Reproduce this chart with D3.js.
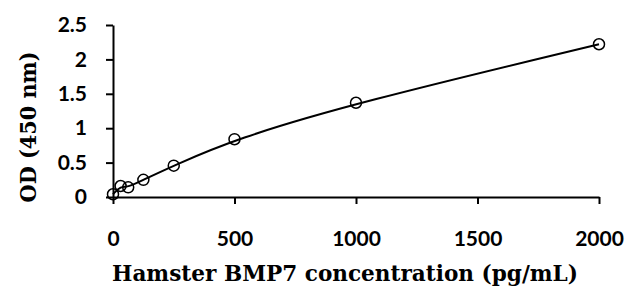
<!DOCTYPE html>
<html>
<head>
<meta charset="utf-8">
<script src="https://cdn.jsdelivr.net/npm/d3@7"></script>
<style>
  body { margin: 0; background: #fff; }
  svg { display: block; }
</style>
</head>
<body>
<svg width="630" height="291"></svg>
<script>
// standard curve: concentration (pg/mL) vs OD at 450 nm
const conc = [0, 31.25, 62.5, 125, 250, 500, 1000, 2000];
const od = [0.04, 0.16, 0.14, 0.25, 0.455, 0.84, 1.37, 2.22];
const xTicks = [0, 500, 1000, 1500, 2000];
const yTicks = [0, 0.5, 1, 1.5, 2, 2.5];

const data = conc.map((c, i) => ({ c: c, od: od[i] }));

const svg = d3.select("svg");

// plot area
const x = d3.scaleLinear().domain([0, 2000]).range([113, 599]);
const y = d3.scaleLinear().domain([0, 2.5]).range([197, 25]);

const tickFont = "Lato, 'Open Sans', sans-serif";
const titleFont = "'DejaVu Serif', 'Liberation Serif', serif";

// x axis
const xAxis = svg.append("g")
  .attr("transform", "translate(0," + y(0) + ")")
  .call(d3.axisBottom(x).tickValues(xTicks).tickSize(7).tickSizeOuter(0)
    .tickFormat(d3.format("d")));
xAxis.select(".domain").attr("stroke", "#000").attr("stroke-width", 2);
xAxis.selectAll(".tick line").attr("stroke", "#000").attr("stroke-width", 2);
xAxis.selectAll("text")
  .attr("dy", 0)
  .attr("y", 49)
  .style("font-family", tickFont)
  .style("font-weight", "bold")
  .style("font-size", "21px")
  .attr("fill", "#000");

// y axis
const yAxis = svg.append("g")
  .attr("transform", "translate(" + x(0) + ",0)")
  .call(d3.axisLeft(y).tickValues(yTicks).tickSize(7).tickSizeOuter(0).tickPadding(19)
    .tickFormat(d => d));
yAxis.select(".domain").attr("stroke", "#000").attr("stroke-width", 2);
yAxis.selectAll(".tick line").attr("stroke", "#000").attr("stroke-width", 2);
yAxis.selectAll("text")
  .style("font-family", tickFont)
  .style("font-weight", "bold")
  .style("font-size", "21px")
  .attr("fill", "#000");

// smoothed standard curve
const line = d3.line()
  .x(d => x(d.c))
  .y(d => y(d.od))
  .curve(d3.curveBasis);

svg.append("path")
  .datum(data)
  .attr("d", line)
  .attr("fill", "none")
  .attr("stroke", "#000")
  .attr("stroke-width", 2);

// points
svg.append("g").selectAll("circle")
  .data(data)
  .enter()
  .append("circle")
  .attr("cx", d => x(d.c))
  .attr("cy", d => y(d.od))
  .attr("r", 5.5)
  .attr("fill", "#fff")
  .attr("fill-opacity", 0)
  .attr("stroke", "#000")
  .attr("stroke-width", 1.5);

// axis titles
svg.append("text")
  .attr("x", 345)
  .attr("y", 281)
  .attr("text-anchor", "middle")
  .style("font-family", titleFont)
  .style("font-weight", "bold")
  .style("font-size", "22px")
  .attr("textLength", 466)
  .attr("lengthAdjust", "spacingAndGlyphs")
  .text("Hamster BMP7 concentration (pg/mL)");

svg.append("text")
  .attr("transform", "translate(36,127) rotate(-90)")
  .attr("text-anchor", "middle")
  .style("font-family", titleFont)
  .style("font-weight", "bold")
  .style("font-size", "22px")
  .attr("textLength", 151)
  .attr("lengthAdjust", "spacingAndGlyphs")
  .text("OD (450 nm)");
</script>
</body>
</html>
